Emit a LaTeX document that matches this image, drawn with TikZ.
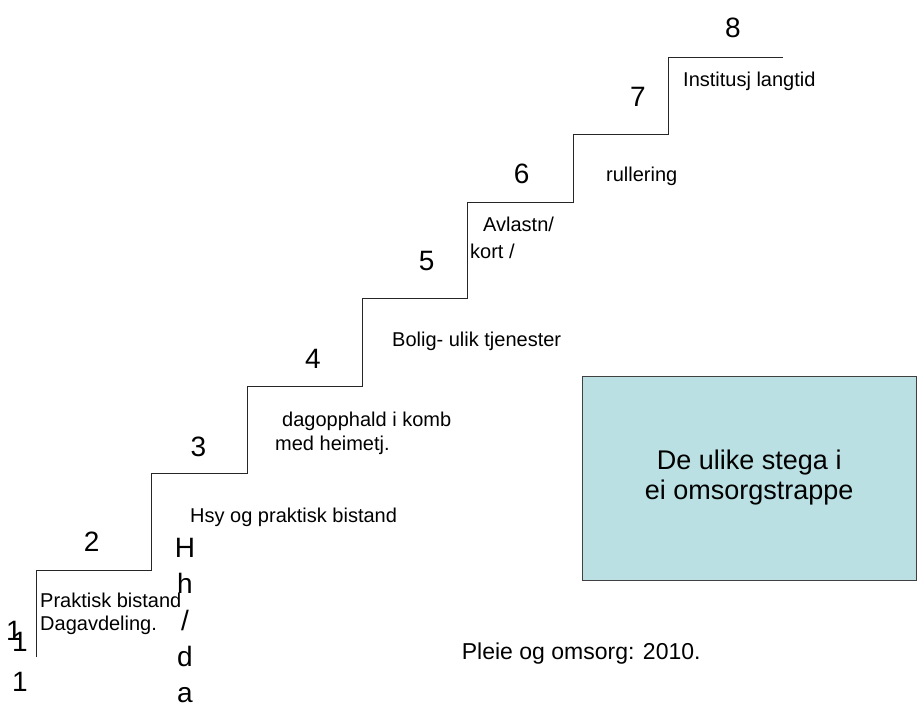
\documentclass[tikz,border=0pt]{standalone}
\usepackage{fontspec}
\setmainfont{Liberation Sans}
\definecolor{boxfill}{RGB}{186,224,227}
\tikzset{
  num/.style={font=\fontsize{28}{32}\selectfont,inner sep=0pt,anchor=base},
  lbl/.style={font=\fontsize{20}{23}\selectfont,inner sep=0pt,anchor=base west,align=left},
  big/.style={font=\fontsize{28}{36.4}\selectfont,inner sep=0pt,anchor=base,align=center},
  infobox/.style={draw=black!75,fill=boxfill,line width=1pt,align=center,inner sep=0pt,
    font=\fontsize{27}{30}\selectfont,minimum width=334pt,minimum height=204pt}
}
\begin{document}
\begin{tikzpicture}[x=1pt,y=-1pt]
\useasboundingbox (0,0) rectangle (917,702);
\clip (0,0) rectangle (917,702);
\draw[line width=1pt,black!85]
(36,657) -- (36,570) -- (151,570) -- (151,473) -- (247,473) -- (247,386) -- (362,386)
-- (362,298) -- (467,298) -- (467,202) -- (573,202) -- (573,134) -- (668,134) -- (668,57) -- (783,57);

\node[num] (s8) at (733,37.3) {8};
\node[num] (s7) at (638,106) {7};
\node[num] (s6) at (521.7,183.3) {6};
\node[num] (s5) at (426.7,270.7) {5};
\node[num] (s4) at (313,368) {4};
\node[num] (s3) at (198.3,456) {3};
\node[num] (s2) at (91.7,551.7) {2};

\node[lbl] (inst) at (683,86) {Institusj langtid};
\node[lbl] (rull) at (606,181.7) {rullering};
\node[lbl] (avl) at (470,258.3) {\hspace*{13pt}Avlastn/\\[4pt]kort /};
\node[lbl] (bolig) at (392,346.7) {Bolig- ulik tjenester};
\node[lbl] (dag) at (275,450.7) {\hspace*{7pt}dagopphald i komb\\[1.5pt]med heimetj.};
\node[lbl] (hsy) at (190,522.7) {Hsy og praktisk bistand};
\node[lbl] (prak) at (40,630.7) {Praktisk bistand\\Dagavdeling.};
\node[lbl,font=\fontsize{23}{27}\selectfont] (pleie) at (461.7,659.3) {Pleie og omsorg: 2010.};

\node[big] (hcol) at (185,702.9) {H\\h\\/\\d\\a};
\node[big] (one) at (14,640) {1};
\node[big,font=\fontsize{28}{40}\selectfont] (ones) at (20,691.7) {1\\1};

\node[infobox] (stega) at (749.25,478) {De ulike stega i\\ei omsorgstrappe};
\end{tikzpicture}
\end{document}
